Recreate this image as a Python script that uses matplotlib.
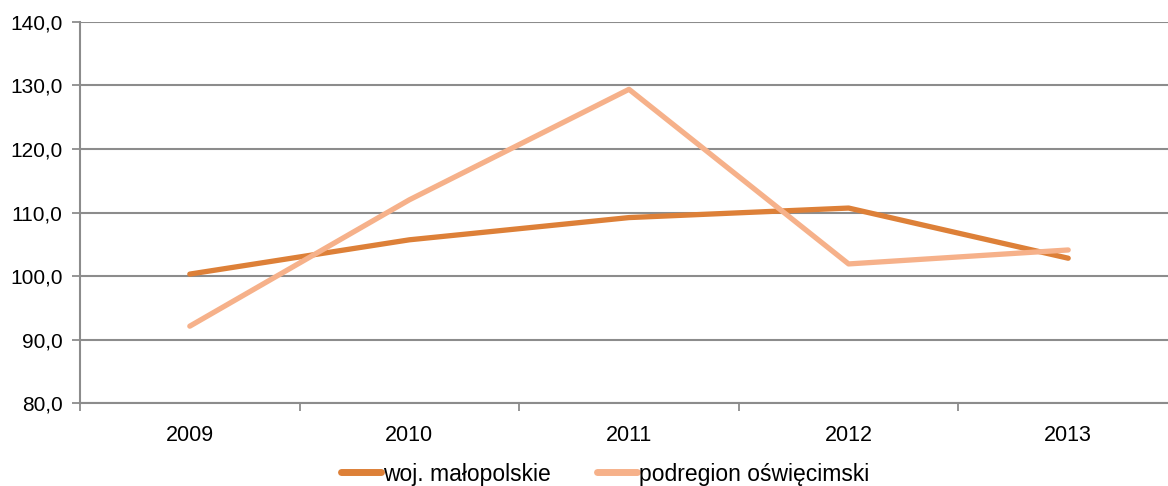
import matplotlib
matplotlib.use("Agg")
import matplotlib.pyplot as plt
from matplotlib.ticker import FuncFormatter, FixedLocator

plt.rcParams['font.family'] = ['Liberation Sans', 'DejaVu Sans']

years = ["2009", "2010", "2011", "2012", "2013"]
woj = [100.3, 105.7, 109.2, 110.7, 102.8]
podregion = [92.1, 112.0, 129.4, 101.9, 104.1]
series_names = ["woj. małopolskie", "podregion oświęcimski"]

fig = plt.figure(figsize=(11.68, 4.86), dpi=100)
ax = fig.add_axes([80/1168, 83/486, 1098/1168, 381/486])

x = list(range(len(years)))
ax.plot(x, woj, color="#DD8038", lw=3.8, solid_capstyle="round", label=series_names[0], zorder=3)
ax.plot(x, podregion, color="#F6B18A", lw=3.8, solid_capstyle="round", label=series_names[1], zorder=3)

ax.set_xlim(-0.5, len(years) - 0.5)
ax.set_ylim(80, 140)
ax.set_yticks(range(80, 141, 10))
ax.yaxis.set_major_formatter(FuncFormatter(lambda v, p: f"{v:.1f}".replace(".", ",")))
ax.set_xticks(x)
ax.set_xticklabels(years)
ax.xaxis.set_minor_locator(FixedLocator([i - 0.5 for i in range(len(years) + 1)]))
ax.tick_params(axis="x", which="major", length=0, pad=16, labelsize=15.5)
ax.tick_params(axis="x", which="minor", length=6, width=1.3, color="#8c8c8c", direction="out")
ax.tick_params(axis="y", length=6, width=1.3, color="#8c8c8c", labelsize=15, pad=6.5)

ax.grid(axis="y", color="#8c8c8c", lw=1.5)
ax.set_axisbelow(True)
for s in ["top", "right"]:
    ax.spines[s].set_visible(False)
ax.spines["left"].set_color("#8c8c8c")
ax.spines["left"].set_linewidth(1.5)
ax.spines["bottom"].set_color("#8c8c8c")
ax.spines["bottom"].set_linewidth(1.5)

leg = fig.legend(loc="center", bbox_to_anchor=(605/1168, 1 - 474/486), ncol=2, frameon=False,
                 fontsize=16.5, handlelength=1.75, handletextpad=0.1, columnspacing=2.0)
for line in leg.get_lines():
    line.set_linewidth(5)

fig.savefig("out.png", dpi=100)
